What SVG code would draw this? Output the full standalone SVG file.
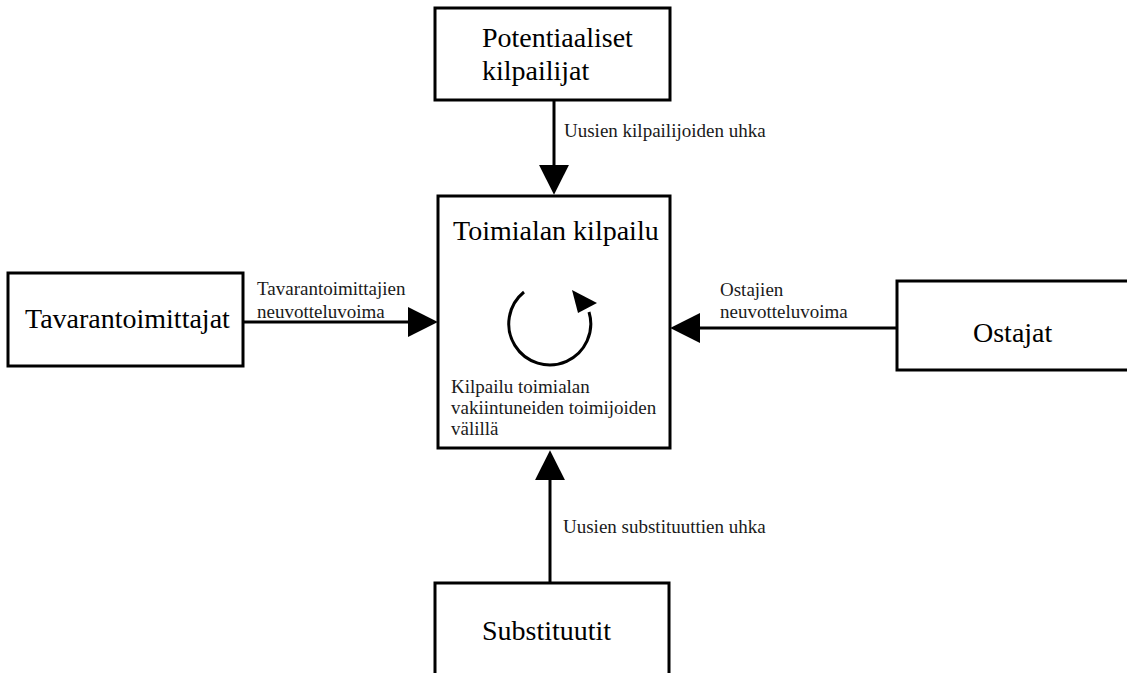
<svg xmlns="http://www.w3.org/2000/svg" width="1127" height="673" viewBox="0 0 1127 673">
  <style>
    .box { fill: #fff; stroke: #000; stroke-width: 3; }
    .big { font-family: "Liberation Serif", "Times New Roman", serif; font-size: 28px; fill: #000; }
    .small { font-family: "Liberation Serif", "Times New Roman", serif; font-size: 19px; fill: #1a1a1a; }
    .conn { fill: none; stroke: #000; stroke-width: 3; }
  </style>
  <defs>
    <marker id="head" markerUnits="userSpaceOnUse" markerWidth="30" markerHeight="30" viewBox="0 0 28 28" refX="2" refY="14" orient="auto">
      <path d="M0,0 L28,14 L0,28 Z" fill="#000"/>
    </marker>
  </defs>
  <rect width="1127" height="673" fill="#fff"/>

  <!-- forces acting on the industry -->
  <g id="connectors">
    <path class="conn" d="M554,100 L554,167" marker-end="url(#head)"/>
    <path class="conn" d="M243,322 L410,322" marker-end="url(#head)"/>
    <path class="conn" d="M897,328 L698,328" marker-end="url(#head)"/>
    <path class="conn" d="M550,583 L550,478" marker-end="url(#head)"/>
    <text class="small" x="564" y="137">Uusien kilpailijoiden uhka</text>
    <text class="small" x="257" y="295">Tavarantoimittajien</text>
    <text class="small" x="257" y="318">neuvotteluvoima</text>
    <text class="small" x="720" y="296">Ostajien</text>
    <text class="small" x="720" y="318">neuvotteluvoima</text>
    <text class="small" x="563" y="533">Uusien substituuttien uhka</text>
  </g>

  <g id="potentiaaliset">
    <rect class="box" x="435" y="8" width="235" height="92"/>
    <text class="big" x="482" y="47">Potentiaaliset</text>
    <text class="big" x="482" y="80">kilpailijat</text>
  </g>

  <g id="toimiala">
    <rect class="box" x="438" y="196" width="232" height="252"/>
    <text class="big" x="453" y="240">Toimialan kilpailu</text>
    <path d="M524,292 A41,41 0 1,0 589,312" fill="none" stroke="#000" stroke-width="3"/>
    <path d="M572,290 L597,303 L578,313 Z" fill="#000"/>
    <text class="small" x="451" y="393">Kilpailu toimialan</text>
    <text class="small" x="451" y="414">vakiintuneiden toimijoiden</text>
    <text class="small" x="451" y="435">välillä</text>
  </g>

  <g id="tavarantoimittajat">
    <rect class="box" x="8" y="273" width="235" height="93"/>
    <text class="big" x="25" y="328">Tavarantoimittajat</text>
  </g>

  <g id="ostajat">
    <rect class="box" x="897" y="281" width="240" height="89"/>
    <text class="big" x="973" y="342">Ostajat</text>
  </g>

  <g id="substituutit">
    <rect class="box" x="435" y="583" width="234" height="100"/>
    <text class="big" x="482" y="640">Substituutit</text>
  </g>
</svg>
